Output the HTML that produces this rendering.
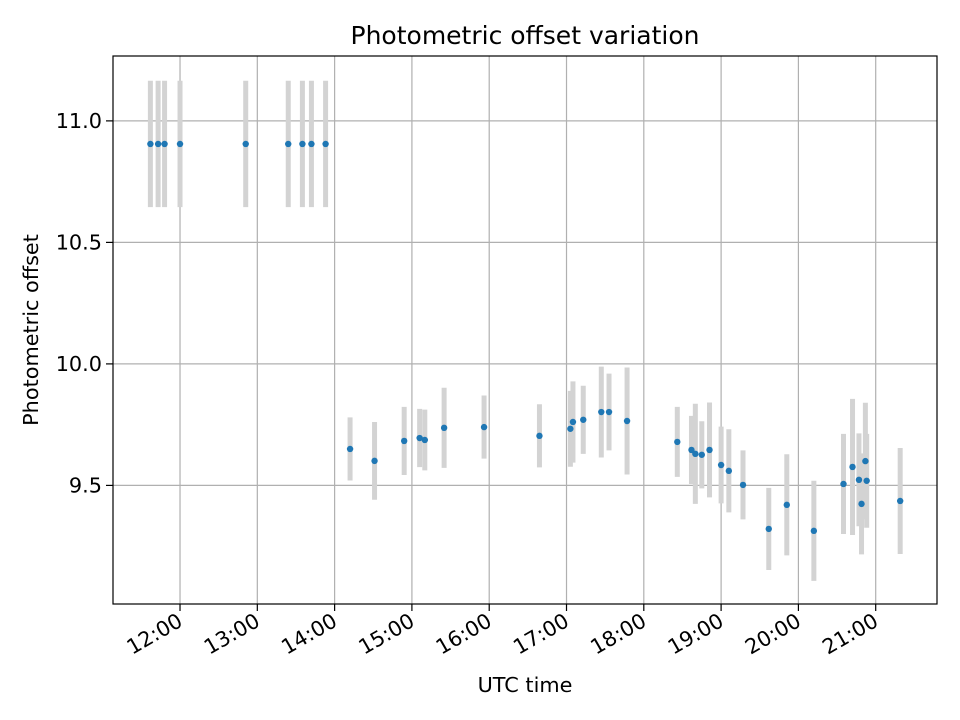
<!DOCTYPE html>
<html><head><meta charset="utf-8"><style>
html,body{margin:0;padding:0;background:#fff;}
svg{display:block;font-family:"DejaVu Sans","Liberation Sans",sans-serif;}
</style></head><body>
<svg id="chart" width="960" height="720" viewBox="0 0 960 720" xmlns="http://www.w3.org/2000/svg">
<rect width="960" height="720" fill="#fff"/>
<g id="grid"></g>
<g id="errs"></g>
<g id="pts"></g>
<g id="axes"></g>
<text x="525" y="44" text-anchor="middle" font-size="25" fill="#000">Photometric offset variation</text>
<text x="525" y="692" text-anchor="middle" font-size="20.8" fill="#000">UTC time</text>
<text transform="translate(38,330) rotate(-90)" text-anchor="middle" font-size="20.8" fill="#000">Photometric offset</text>
</svg>
<script>
const times = ["11:37","11:43","11:48","12:00","12:51","13:24","13:35","13:42","13:53",
"14:12","14:31","14:54","15:06","15:10","15:25","15:56","16:39","17:03","17:05","17:13","17:27","17:33","17:47",
"18:26","18:37","18:40","18:45","18:51","19:00","19:06","19:17","19:37","19:51","20:12","20:35","20:42","20:47","20:49","20:52","20:53","21:19"];
const offsets = [10.905,10.905,10.905,10.905,10.905,10.905,10.905,10.905,10.905,
9.650,9.601,9.683,9.695,9.687,9.737,9.740,9.704,9.733,9.761,9.770,9.802,9.802,9.765,
9.679,9.646,9.630,9.626,9.646,9.584,9.560,9.502,9.321,9.420,9.313,9.506,9.576,9.523,9.424,9.600,9.519,9.436];
const errors = [0.26,0.26,0.26,0.26,0.26,0.26,0.26,0.26,0.26,
0.13,0.16,0.14,0.12,0.125,0.165,0.13,0.13,0.156,0.167,0.14,0.187,0.158,0.22,
0.144,0.14,0.206,0.138,0.195,0.158,0.171,0.142,0.169,0.208,0.206,0.206,0.28,0.191,0.208,0.24,0.193,0.218];
const xTickLabels = ["12:00","13:00","14:00","15:00","16:00","17:00","18:00","19:00","20:00","21:00"];
const yTicks = [9.5,10.0,10.5,11.0];

const L=113,R=937,T=56,B=604;
const xMin=11.133,xMax=21.793,yMin=9.012,yMax=11.267;
const NS="http://www.w3.org/2000/svg";
function hrs(s){const p=s.split(":");return +p[0]+(+p[1])/60;}
function xs(h){return L+(h-xMin)/(xMax-xMin)*(R-L);}
function ys(v){return B-(v-yMin)/(yMax-yMin)*(B-T);}
function mk(tag,attrs,parent){const e=document.createElementNS(NS,tag);for(const k in attrs)e.setAttribute(k,attrs[k]);parent.appendChild(e);return e;}
const grid=document.getElementById('grid'),axes=document.getElementById('axes'),errs=document.getElementById('errs'),pts=document.getElementById('pts');
xTickLabels.forEach(lbl=>{
  const x=xs(hrs(lbl));
  const g=mk('line',{x1:x,x2:x,y1:T,y2:B,stroke:'#b0b0b0','stroke-width':1.2},grid);
  
  
  const t=mk('line',{x1:x,x2:x,y1:B,y2:B+7,stroke:'#000','stroke-width':1.2},axes);
  
  
  const tx=mk('text',{transform:`translate(${x+4},${B+21}) rotate(-30)`,'text-anchor':'end','font-size':20.8,fill:'#000'},axes);
  tx.textContent=lbl;
  
  
});
yTicks.forEach(v=>{
  const y=ys(v);
  const g=mk('line',{x1:L,x2:R,y1:y,y2:y,stroke:'#b0b0b0','stroke-width':1.2},grid);
  
  
  const t=mk('line',{x1:L-7,x2:L,y1:y,y2:y,stroke:'#000','stroke-width':1.2},axes);
  
  
  const tx=mk('text',{x:L-11,y:y+7,'text-anchor':'end','font-size':20.8,fill:'#000'},axes);
  tx.textContent=v.toFixed(1);
  
  
});
const frame=mk('rect',{x:L,y:T,width:R-L,height:B-T,fill:'none',stroke:'#000','stroke-width':1.2},axes);


times.forEach((t,i)=>{
  const x=xs(hrs(t));
  const e=mk('line',{x1:x,x2:x,y1:ys(offsets[i]+errors[i]),y2:ys(offsets[i]-errors[i]),stroke:'#d3d3d3','stroke-width':5},errs);
  
  
  const c=mk('circle',{cx:x,cy:ys(offsets[i]),r:3.2,fill:'#1f77b4'},pts);
  
  
});
</script>
</body></html>
